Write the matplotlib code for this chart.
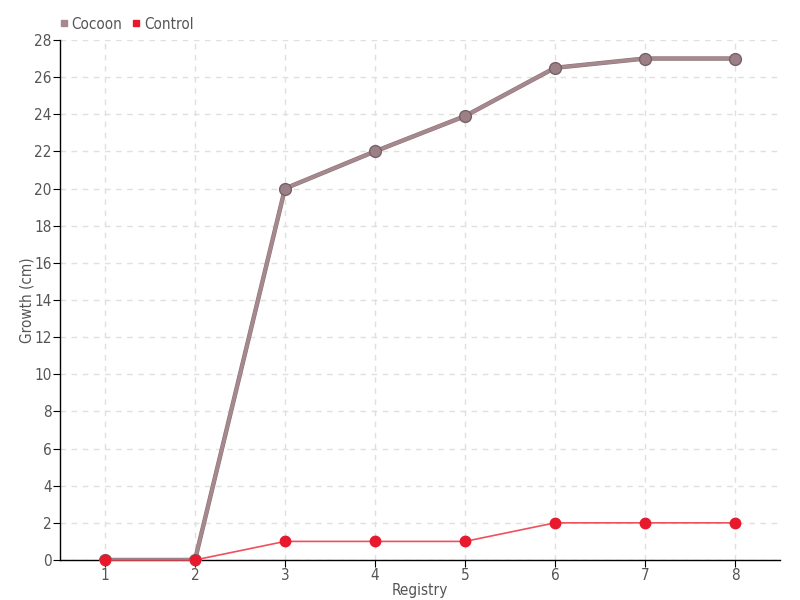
import matplotlib
matplotlib.use("Agg")
import matplotlib.pyplot as plt
import matplotlib.patheffects as pe
from matplotlib.lines import Line2D

registry = [1, 2, 3, 4, 5, 6, 7, 8]
cocoon = [0, 0, 20, 22, 23.9, 26.5, 27, 27]
control = [0, 0, 1, 1, 1, 2, 2, 2]
yticks = list(range(0, 29, 2))

plt.rcParams['font.family'] = ['DejaVu Sans']
plt.rcParams['font.stretch'] = 'condensed'
txt = '#555555'

fig = plt.figure(figsize=(8, 6), dpi=100)
ax = fig.add_axes([0.075, 0.0667, 0.9, 0.8667])

ax.plot(registry, cocoon, color='#a6898e', lw=2.4, zorder=3,
        path_effects=[pe.Stroke(linewidth=3.2, foreground='#8d7479'), pe.Normal()])
ax.plot(registry, cocoon, ls='', marker='o', ms=8.5,
        mfc='#9c8086', mec='#76616a', mew=1.0, zorder=3.5)
ax.plot(registry, control, color='#f0505e', lw=1.2, marker='o', ms=7.5,
        mfc='#e8192c', mec='#e8192c', zorder=4, clip_on=False)

ax.set_xlim(0.5, 8.5)
ax.set_ylim(0, 28)
ax.set_xticks(registry)
ax.set_yticks(yticks)
ax.grid(True, color='#e0e0e0', ls=(0, (4, 4)), lw=1)
ax.set_axisbelow(True)
for s in ['top', 'right']:
    ax.spines[s].set_visible(False)
for s in ['left', 'bottom']:
    ax.spines[s].set_color('black')
    ax.spines[s].set_linewidth(1)
ax.tick_params(colors='black', labelcolor=txt, labelsize=11, length=5, pad=1)
ax.set_xlabel('Registry', color=txt, fontsize=11, labelpad=0)
ax.set_ylabel('Growth (cm)', color=txt, fontsize=11)
ax.yaxis.set_label_coords(-0.035, 0.5)

handles = [Line2D([], [], ls='', marker='s', ms=5, color='#a6898e'),
           Line2D([], [], ls='', marker='s', ms=5, color='#e8192c')]
fig.legend(handles, ['Cocoon', 'Control'], loc='upper left', bbox_to_anchor=(0.055, 0.995),
           ncol=2, frameon=False, fontsize=11, labelcolor=txt, handletextpad=0.1,
           columnspacing=0.5, handlelength=0.8)

fig.savefig('out.png', dpi=100)
